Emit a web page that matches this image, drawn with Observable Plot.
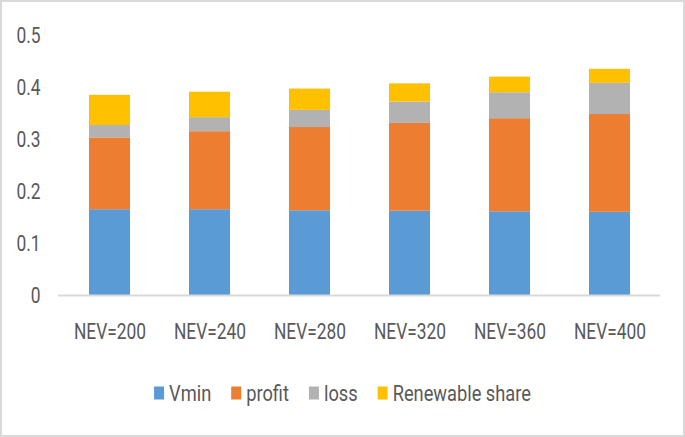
<!DOCTYPE html>
<html>
<head>
<meta charset="utf-8">
<script src="https://cdn.jsdelivr.net/npm/d3@7"></script>
<script src="https://cdn.jsdelivr.net/npm/@observablehq/plot@0.6"></script>
<style>
  html, body { margin: 0; padding: 0; background: #fff; }
  #frame {
    position: relative; width: 685px; height: 437px; box-sizing: border-box;
    border: 2px solid #d9d9d9; background: #fff; overflow: hidden;
    font-family: Roboto, sans-serif; color: #595959;
  }
  #chart svg { display: block; }
  #legend { position: absolute; left: 0; top: 370px; display: block; }
</style>
</head>
<body>
<div id="frame">
  <div id="chart"></div>
  <svg id="legend" width="681" height="40"></svg>
</div>
<script>
const categories = ["NEV=200", "NEV=240", "NEV=280", "NEV=320", "NEV=360", "NEV=400"];
const vmin      = [0.165, 0.165, 0.163, 0.162, 0.161, 0.160];
const profit    = [0.138, 0.150, 0.160, 0.169, 0.179, 0.188];
const loss      = [0.024, 0.027, 0.033, 0.041, 0.050, 0.060];
const renewable = [0.058, 0.049, 0.041, 0.035, 0.030, 0.027];
const seriesNames = ["Vmin", "profit", "loss", "Renewable share"];
const seriesColors = ["#5B9BD5", "#ED7D31", "#B2B2B2", "#FFC000"];
const yTicks = [0, 0.1, 0.2, 0.3, 0.4, 0.5];

const FONT = "Roboto, sans-serif";
const FONT_SIZE = 22;
const SQUEEZE = 0.79;
const LEGEND_SQUEEZE = 0.83;

const seriesValues = [vmin, profit, loss, renewable];
const data = [];
seriesNames.forEach((s, si) => {
  categories.forEach((c, ci) => data.push({category: c, series: s, value: seriesValues[si][ci]}));
});

const chart = Plot.plot({
  width: 681,
  height: 350,
  marginLeft: 56,
  marginRight: 23,
  marginTop: 33,
  marginBottom: 57,
  style: {fontFamily: FONT, fontSize: FONT_SIZE + "px", color: "#595959", background: "#fff"},
  x: {domain: categories, paddingInner: 0.59, paddingOuter: 0.295, label: null},
  y: {domain: [0, 0.5], label: null},
  color: {domain: seriesNames, range: seriesColors},
  marks: [
    Plot.barY(data, {x: "category", y: "value", fill: "series", order: seriesNames}),
    Plot.ruleY([0], {stroke: "#d9d9d9", strokeWidth: 2}),
    Plot.axisY({ticks: yTicks, tickSize: 0, tickPadding: 18, tickFormat: d => d === 0 ? "0" : String(d), label: null, fontSize: FONT_SIZE, fill: "#595959"}),
    Plot.axisX({tickSize: 0, tickPadding: 28, label: null, fontSize: FONT_SIZE, fill: "#595959"})
  ]
});
document.getElementById("chart").appendChild(chart);

// Narrow the glyphs horizontally around each label's anchor (the reference uses a condensed face)
function squeeze(nodes, anchor) {
  nodes.forEach(node => {
    const b = node.getBBox();
    const ax = anchor === "end" ? b.x + b.width : b.x + b.width / 2;
    if (!isFinite(ax)) return;
    const tr = node.getAttribute("transform") || "";
    node.setAttribute("transform", `${tr} translate(${ax},0) scale(${SQUEEZE},1) translate(${-ax},0)`);
  });
}
const texts = Array.from(chart.querySelectorAll("text"));
const yLabels = texts.filter(t => yTicks.map(d => d === 0 ? "0" : String(d)).includes(t.textContent));
const xLabels = texts.filter(t => categories.includes(t.textContent));
squeeze(yLabels, "end");
squeeze(xLabels, "middle");

// Legend
const lg = d3.select("#legend");
const g = lg.append("g");
let xPos = 0;
const swW = 10, swH = 13, gapSw = 5, gapItem = 20, cy = 21;
seriesNames.forEach((s, i) => {
  g.append("rect").attr("x", xPos).attr("y", cy - swH / 2).attr("width", swW).attr("height", swH).attr("fill", seriesColors[i]);
  const tx = xPos + swW + gapSw;
  const t = g.append("text")
    .attr("x", 0).attr("y", 0)
    .attr("transform", `translate(${tx},${cy}) scale(${LEGEND_SQUEEZE},1)`)
    .attr("dy", "0.35em")
    .attr("font-family", FONT).attr("font-size", FONT_SIZE).attr("fill", "#595959")
    .text(s);
  const w = t.node().getComputedTextLength() * LEGEND_SQUEEZE;
  xPos = tx + w + (i < seriesNames.length - 1 ? gapItem : 0);
});
g.attr("transform", `translate(${(681 - xPos) / 2},0)`);
</script>
</body>
</html>
